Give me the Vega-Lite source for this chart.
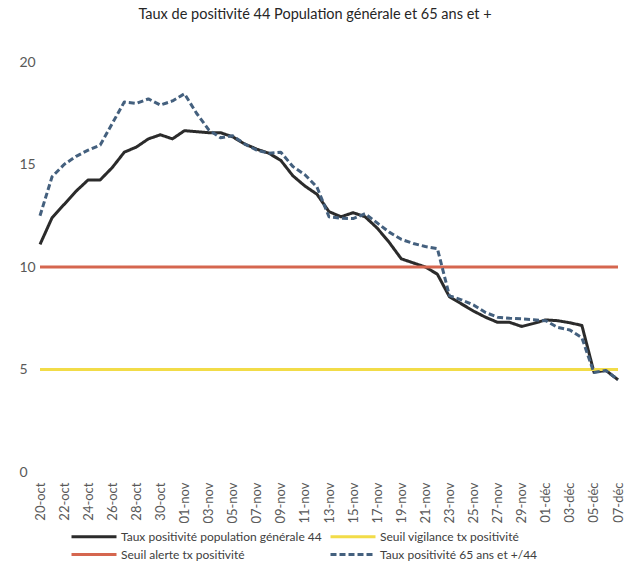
{
  "$schema": "https://vega.github.io/schema/vega-lite/v6.json",
  "autosize": {"type": "none"},
  "width": 578,
  "height": 410,
  "padding": {"left": 40, "top": 62, "right": 6, "bottom": 90},
  "background": "white",
  "config": {
    "view": {"stroke": null},
    "font": "Lato"
  },
  "title": {
    "text": "Taux de positivité 44 Population générale et 65 ans et +",
    "font": "Lato",
    "fontSize": 14.5,
    "fontWeight": "normal",
    "color": "#262626",
    "anchor": "middle",
    "dx": -14,
    "offset": 22,
    "baseline": "alphabetic"
  },
  "data": {
    "values": [
      {"d": "2020-10-20", "Taux positivité population générale 44": 11.1, "Taux positivité 65 ans et +/44": 12.5, "Seuil vigilance tx positivité": 5, "Seuil alerte tx positivité": 10},
      {"d": "2020-10-21", "Taux positivité population générale 44": 12.4, "Taux positivité 65 ans et +/44": 14.4},
      {"d": "2020-10-22", "Taux positivité population générale 44": 13.05, "Taux positivité 65 ans et +/44": 15.0},
      {"d": "2020-10-23", "Taux positivité population générale 44": 13.7, "Taux positivité 65 ans et +/44": 15.4},
      {"d": "2020-10-24", "Taux positivité population générale 44": 14.25, "Taux positivité 65 ans et +/44": 15.7},
      {"d": "2020-10-25", "Taux positivité population générale 44": 14.25, "Taux positivité 65 ans et +/44": 15.95},
      {"d": "2020-10-26", "Taux positivité population générale 44": 14.85, "Taux positivité 65 ans et +/44": 17.0},
      {"d": "2020-10-27", "Taux positivité population générale 44": 15.6, "Taux positivité 65 ans et +/44": 18.05},
      {"d": "2020-10-28", "Taux positivité population générale 44": 15.85, "Taux positivité 65 ans et +/44": 17.98},
      {"d": "2020-10-29", "Taux positivité population générale 44": 16.25, "Taux positivité 65 ans et +/44": 18.2},
      {"d": "2020-10-30", "Taux positivité population générale 44": 16.45, "Taux positivité 65 ans et +/44": 17.9},
      {"d": "2020-10-31", "Taux positivité population générale 44": 16.25, "Taux positivité 65 ans et +/44": 18.1},
      {"d": "2020-11-01", "Taux positivité population générale 44": 16.65, "Taux positivité 65 ans et +/44": 18.45},
      {"d": "2020-11-02", "Taux positivité population générale 44": 16.6, "Taux positivité 65 ans et +/44": 17.5},
      {"d": "2020-11-03", "Taux positivité population générale 44": 16.55, "Taux positivité 65 ans et +/44": 16.7},
      {"d": "2020-11-04", "Taux positivité population générale 44": 16.55, "Taux positivité 65 ans et +/44": 16.3},
      {"d": "2020-11-05", "Taux positivité population générale 44": 16.35, "Taux positivité 65 ans et +/44": 16.4},
      {"d": "2020-11-06", "Taux positivité population générale 44": 16.0, "Taux positivité 65 ans et +/44": 16.0},
      {"d": "2020-11-07", "Taux positivité population générale 44": 15.75, "Taux positivité 65 ans et +/44": 15.7},
      {"d": "2020-11-08", "Taux positivité population générale 44": 15.55, "Taux positivité 65 ans et +/44": 15.55},
      {"d": "2020-11-09", "Taux positivité population générale 44": 15.2, "Taux positivité 65 ans et +/44": 15.6},
      {"d": "2020-11-10", "Taux positivité population générale 44": 14.45, "Taux positivité 65 ans et +/44": 14.9},
      {"d": "2020-11-11", "Taux positivité population générale 44": 13.95, "Taux positivité 65 ans et +/44": 14.5},
      {"d": "2020-11-12", "Taux positivité population générale 44": 13.55, "Taux positivité 65 ans et +/44": 13.9},
      {"d": "2020-11-13", "Taux positivité population générale 44": 12.7, "Taux positivité 65 ans et +/44": 12.45},
      {"d": "2020-11-14", "Taux positivité population générale 44": 12.45, "Taux positivité 65 ans et +/44": 12.38},
      {"d": "2020-11-15", "Taux positivité population générale 44": 12.65, "Taux positivité 65 ans et +/44": 12.36},
      {"d": "2020-11-16", "Taux positivité population générale 44": 12.45, "Taux positivité 65 ans et +/44": 12.6},
      {"d": "2020-11-17", "Taux positivité population générale 44": 11.9, "Taux positivité 65 ans et +/44": 12.15},
      {"d": "2020-11-18", "Taux positivité population générale 44": 11.2, "Taux positivité 65 ans et +/44": 11.7},
      {"d": "2020-11-19", "Taux positivité population générale 44": 10.4, "Taux positivité 65 ans et +/44": 11.35},
      {"d": "2020-11-20", "Taux positivité population générale 44": 10.2, "Taux positivité 65 ans et +/44": 11.15},
      {"d": "2020-11-21", "Taux positivité population générale 44": 10.0, "Taux positivité 65 ans et +/44": 11.0},
      {"d": "2020-11-22", "Taux positivité population générale 44": 9.65, "Taux positivité 65 ans et +/44": 10.9},
      {"d": "2020-11-23", "Taux positivité population générale 44": 8.55, "Taux positivité 65 ans et +/44": 8.6},
      {"d": "2020-11-24", "Taux positivité population générale 44": 8.2, "Taux positivité 65 ans et +/44": 8.4},
      {"d": "2020-11-25", "Taux positivité population générale 44": 7.85, "Taux positivité 65 ans et +/44": 8.15},
      {"d": "2020-11-26", "Taux positivité population générale 44": 7.55, "Taux positivité 65 ans et +/44": 7.78},
      {"d": "2020-11-27", "Taux positivité population générale 44": 7.3, "Taux positivité 65 ans et +/44": 7.55},
      {"d": "2020-11-28", "Taux positivité population générale 44": 7.3, "Taux positivité 65 ans et +/44": 7.5},
      {"d": "2020-11-29", "Taux positivité population générale 44": 7.1, "Taux positivité 65 ans et +/44": 7.47},
      {"d": "2020-11-30", "Taux positivité population générale 44": 7.25, "Taux positivité 65 ans et +/44": 7.43},
      {"d": "2020-12-01", "Taux positivité population générale 44": 7.42, "Taux positivité 65 ans et +/44": 7.38},
      {"d": "2020-12-02", "Taux positivité population générale 44": 7.38, "Taux positivité 65 ans et +/44": 7.05},
      {"d": "2020-12-03", "Taux positivité population générale 44": 7.28, "Taux positivité 65 ans et +/44": 6.93},
      {"d": "2020-12-04", "Taux positivité population générale 44": 7.15, "Taux positivité 65 ans et +/44": 6.55},
      {"d": "2020-12-05", "Taux positivité population générale 44": 4.88, "Taux positivité 65 ans et +/44": 4.85},
      {"d": "2020-12-06", "Taux positivité population générale 44": 4.95, "Taux positivité 65 ans et +/44": 4.95},
      {"d": "2020-12-07", "Taux positivité population générale 44": 4.5, "Taux positivité 65 ans et +/44": 4.5, "Seuil vigilance tx positivité": 5, "Seuil alerte tx positivité": 10}
    ]
  },
  "transform": [
    {"fold": ["Taux positivité population générale 44", "Seuil vigilance tx positivité", "Seuil alerte tx positivité", "Taux positivité 65 ans et +/44"], "as": ["s", "v"]},
    {"filter": "isValid(datum.v)"}
  ],
  "mark": {"type": "line", "strokeCap": "butt", "strokeJoin": "round"},
  "encoding": {
    "x": {
      "field": "d",
      "type": "temporal",
      "scale": {"type": "utc", "nice": false, "domain": [{"year": 2020, "month": 10, "date": 20, "utc": true}, {"year": 2020, "month": 12, "date": 7, "utc": true}]},
      "axis": {
        "title": null,
        "domain": false,
        "ticks": false,
        "tickSize": 0,
        "grid": false,
        "labelAngle": -90,
        "labelAlign": "right",
        "labelBaseline": "middle",
        "labelPadding": 10,
        "labelFontSize": 13,
        "labelColor": "#595959",
        "labelOverlap": false,
        "labelFlush": false,
        "labelBound": false,
        "values": [
          {"year": 2020, "month": 10, "date": 20, "utc": true},
          {"year": 2020, "month": 10, "date": 22, "utc": true},
          {"year": 2020, "month": 10, "date": 24, "utc": true},
          {"year": 2020, "month": 10, "date": 26, "utc": true},
          {"year": 2020, "month": 10, "date": 28, "utc": true},
          {"year": 2020, "month": 10, "date": 30, "utc": true},
          {"year": 2020, "month": 11, "date": 1, "utc": true},
          {"year": 2020, "month": 11, "date": 3, "utc": true},
          {"year": 2020, "month": 11, "date": 5, "utc": true},
          {"year": 2020, "month": 11, "date": 7, "utc": true},
          {"year": 2020, "month": 11, "date": 9, "utc": true},
          {"year": 2020, "month": 11, "date": 11, "utc": true},
          {"year": 2020, "month": 11, "date": 13, "utc": true},
          {"year": 2020, "month": 11, "date": 15, "utc": true},
          {"year": 2020, "month": 11, "date": 17, "utc": true},
          {"year": 2020, "month": 11, "date": 19, "utc": true},
          {"year": 2020, "month": 11, "date": 21, "utc": true},
          {"year": 2020, "month": 11, "date": 23, "utc": true},
          {"year": 2020, "month": 11, "date": 25, "utc": true},
          {"year": 2020, "month": 11, "date": 27, "utc": true},
          {"year": 2020, "month": 11, "date": 29, "utc": true},
          {"year": 2020, "month": 12, "date": 1, "utc": true},
          {"year": 2020, "month": 12, "date": 3, "utc": true},
          {"year": 2020, "month": 12, "date": 5, "utc": true},
          {"year": 2020, "month": 12, "date": 7, "utc": true}
        ],
        "labelExpr": "utcFormat(datum.value, '%d') + '-' + ['janv','févr','mars','avr','mai','juin','juil','août','sept','oct','nov','déc'][utcmonth(datum.value)]"
      }
    },
    "y": {
      "field": "v",
      "type": "quantitative",
      "scale": {"domain": [0, 20], "nice": false},
      "axis": {
        "title": null,
        "domain": false,
        "ticks": false,
        "tickSize": 0,
        "grid": false,
        "values": [0, 5, 10, 15, 20],
        "labelAlign": "left",
        "labelPadding": 21,
        "labelFontSize": 14,
        "labelColor": "#595959"
      }
    },
    "color": {
      "field": "s",
      "type": "nominal",
      "scale": {
        "domain": ["Taux positivité population générale 44", "Seuil vigilance tx positivité", "Seuil alerte tx positivité", "Taux positivité 65 ans et +/44"],
        "range": ["#2b2b2b", "#f2dc48", "#d5664f", "#44607e"]
      },
      "legend": {
        "title": null,
        "orient": "none",
        "legendX": 30,
        "legendY": 464,
        "direction": "horizontal",
        "columns": 2,
        "columnPadding": 2,
        "rowPadding": 1,
        "symbolType": "M-1,0H4",
        "symbolSize": 324,
        "symbolStrokeWidth": 2.5,
        "labelFontSize": 12,
        "labelColor": "#404040",
        "labelOffset": 30,
        "labelLimit": 300
      }
    },
    "strokeDash": {
      "field": "s",
      "type": "nominal",
      "scale": {
        "domain": ["Taux positivité population générale 44", "Seuil vigilance tx positivité", "Seuil alerte tx positivité", "Taux positivité 65 ans et +/44"],
        "range": [[1, 0], [1, 0], [1, 0], [6, 3]]
      }
    },
    "strokeWidth": {
      "field": "s",
      "type": "nominal",
      "scale": {
        "domain": ["Taux positivité population générale 44", "Seuil vigilance tx positivité", "Seuil alerte tx positivité", "Taux positivité 65 ans et +/44"],
        "range": [3, 3, 2.2, 2.5]
      },
      "legend": null
    }
  }
}
